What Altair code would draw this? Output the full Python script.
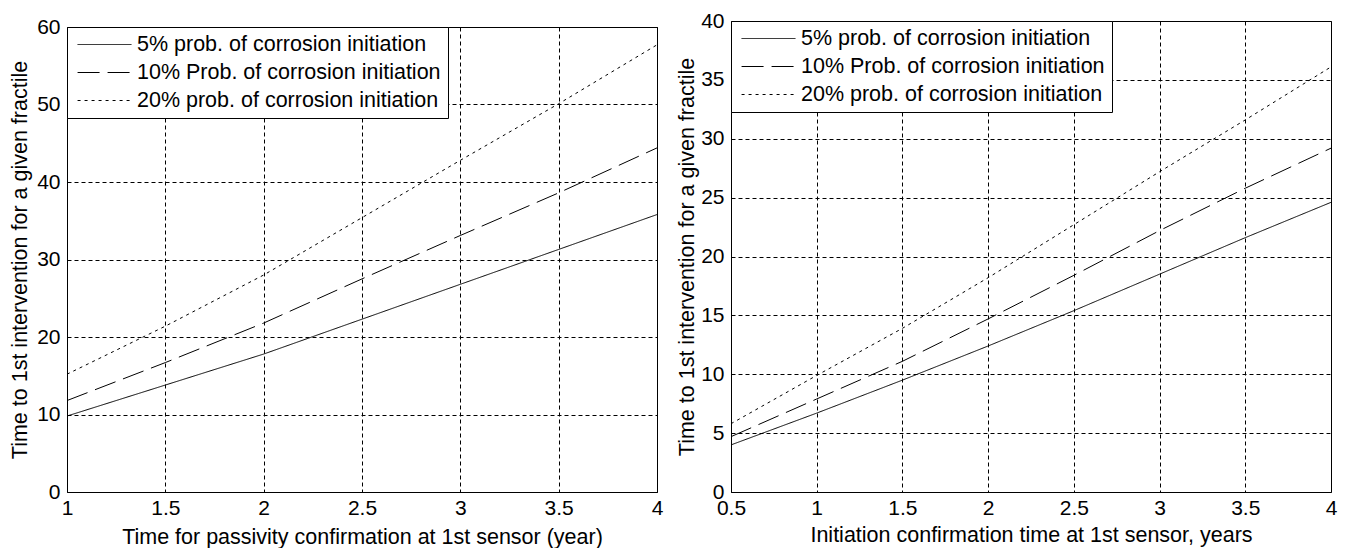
import altair as alt
import pandas as pd

FONT = "Liberation Sans"

series_names = [
    "5% prob. of corrosion initiation",
    "10% Prob. of corrosion initiation",
    "20% prob. of corrosion initiation",
]
dash_styles = [[1, 0], [22, 8], [3, 4]]

# Left panel: passivity confirmation
left_x = [1.0, 1.5, 2.0, 2.5, 3.0, 3.5, 4.0]
left_p5 = [9.8, 13.8, 17.8, 22.3, 26.8, 31.3, 35.8]
left_p10 = [11.8, 16.7, 21.8, 27.5, 33.1, 38.6, 44.4]
left_p20 = [15.2, 21.4, 28.0, 35.4, 42.8, 50.1, 57.7]
left_xticks = [1, 1.5, 2, 2.5, 3, 3.5, 4]
left_yticks = [0, 10, 20, 30, 40, 50, 60]

# Right panel: initiation confirmation
right_x = [0.5, 1.0, 1.5, 2.0, 2.5, 3.0, 3.5, 4.0]
right_p5 = [4.0, 6.7, 9.5, 12.4, 15.4, 18.5, 21.6, 24.6]
right_p10 = [4.7, 7.9, 11.1, 14.7, 18.4, 22.2, 25.8, 29.2]
right_p20 = [5.8, 9.9, 13.9, 18.2, 22.7, 27.2, 31.6, 36.1]
right_xticks = [0.5, 1, 1.5, 2, 2.5, 3, 3.5, 4]
right_yticks = [0, 5, 10, 15, 20, 25, 30, 35, 40]

y_title = "Time to 1st intervention for a given fractile"
left_xtitle = "Time for passivity confirmation at 1st sensor (year)"
right_xtitle = "Initiation confirmation time at 1st sensor, years"


def long_df(xs, ys_list):
    rows = []
    for name, ys in zip(series_names, ys_list):
        for i, (x, y) in enumerate(zip(xs, ys)):
            rows.append({"x": x, "y": y, "series": name, "order": i})
    return pd.DataFrame(rows)


def panel(df, xdom, ydom, xticks, yticks, xtitle, w, h, ytp, xtp):
    legend = alt.Legend(
        title=None, orient="none", legendX=0, legendY=0,
        symbolType="stroke", symbolSize=2900, symbolStrokeWidth=1,
        symbolStrokeColor="black", labelFont=FONT, labelFontSize=21.5,
        labelColor="black", labelLimit=600, fillColor="white",
        strokeColor="black", padding=7,
        rowPadding=6, clipHeight=21, symbolOffset=3, labelOffset=5,
    )
    return alt.Chart(df).mark_line(color="black", strokeWidth=1).encode(
        x=alt.X("x:Q", scale=alt.Scale(domain=xdom, nice=False, zero=False),
                axis=alt.Axis(values=xticks, format=".1~f", title=xtitle,
                              labelFlush=False, labelPadding=5, titlePadding=xtp)),
        y=alt.Y("y:Q", scale=alt.Scale(domain=ydom, nice=False),
                axis=alt.Axis(values=yticks, format=".1~f", title=y_title,
                              labelPadding=7, titlePadding=ytp)),
        strokeDash=alt.StrokeDash("series:N",
                                  scale=alt.Scale(domain=series_names, range=dash_styles),
                                  legend=legend),
        order="order:Q",
    ).properties(width=w, height=h)


left = panel(long_df(left_x, [left_p5, left_p10, left_p20]), [1, 4], [0, 60],
             left_xticks, left_yticks, left_xtitle, 590, 465, 5, 8)
right = panel(long_df(right_x, [right_p5, right_p10, right_p20]), [0.5, 4], [0, 40],
              right_xticks, right_yticks, right_xtitle, 600, 471, 2, 6)

# invisible layout spacer that lowers the left panel's frame slightly
spacer = alt.Chart(pd.DataFrame({"s": [0]})).mark_point(opacity=0).encode(
    x=alt.X("s:Q", axis=None), y=alt.Y("s:Q", axis=None)
).properties(width=590, height=1, view=alt.ViewBackground(strokeOpacity=0))

left_w = alt.vconcat(spacer, left, spacing=-10).resolve_scale(
    x="independent", y="independent", strokeDash="independent"
).resolve_legend(strokeDash="independent")
right_w = alt.vconcat(right).resolve_scale(
    strokeDash="independent"
).resolve_legend(strokeDash="independent")

chart = alt.hconcat(left_w, right_w, spacing=12).resolve_scale(
    strokeDash="independent", x="independent", y="independent"
).resolve_legend(strokeDash="independent").configure(
    padding={"left": 1, "top": 1, "right": 0, "bottom": 0},
    background="white",
).configure_view(
    stroke="black", strokeWidth=1,
).configure_axis(
    labelFont=FONT, labelFontSize=21, labelColor="black",
    titleFont=FONT, titleFontSize=21.5, titleFontWeight="normal", titleColor="black",
    grid=True, gridColor="black", gridDash=[4, 3], gridOpacity=1, gridWidth=1,
    domain=False, ticks=False, labelOverlap=False,
)

chart.save("out.html", embed_options={"renderer": "svg", "actions": False})
